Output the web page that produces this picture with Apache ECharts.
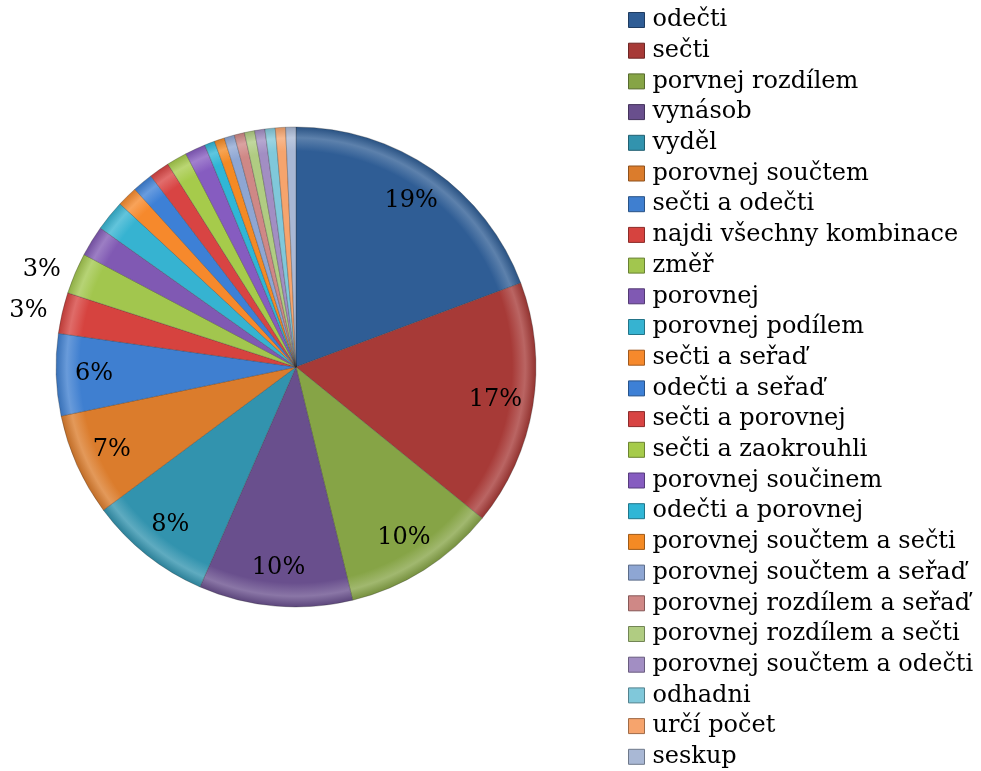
<!DOCTYPE html>
<html>
<head>
<meta charset="utf-8">
<script src="https://cdn.jsdelivr.net/npm/echarts@6/dist/echarts.min.js"></script>
<style>
html,body{margin:0;padding:0;background:#fff;}
#chart{width:981px;height:771px;}
</style>
</head>
<body>
<div id="chart"></div>
<script>
const categories = [
  'odečti','sečti','porvnej rozdílem','vynásob','vyděl','porovnej součtem',
  'sečti a odečti','najdi všechny kombinace','změř','porovnej','porovnej podílem',
  'sečti a seřaď','odečti a seřaď','sečti a porovnej','sečti a zaokrouhli',
  'porovnej součinem','odečti a porovnej','porovnej součtem a sečti',
  'porovnej součtem a seřaď','porovnej rozdílem a seřaď','porovnej rozdílem a sečti',
  'porovnej součtem a odečti','odhadni','určí počet','seskup'
];
const values = [28,24,15,15,12,10,8,4,4,3,3,2,2,2,2,2,1,1,1,1,1,1,1,1,1];
const colors = [
  '#2F5D95','#A73A37','#86A446','#694F8D','#3293AE','#DB7C2C',
  '#3F7FD0','#D6433F','#A2C64E','#8059B3','#36B3D1','#F6892C',
  '#3D80D6','#D84443','#A6CB4B','#865CC0','#30B6D6','#F48A24',
  '#8EA6D3','#CF8886','#B0CC82','#A28EC3','#80C8DA','#F6A46D','#A9B8D5'
];
const outsideLabels = ['najdi všechny kombinace','změř'];

const total = values.reduce((a,b)=>a+b,0);
const FONT = 'DejaVu Serif';
const center = [296, 367];
const R = 240;

function mix(hex, t, target){
  const n = parseInt(hex.slice(1),16);
  const r=(n>>16)&255, g=(n>>8)&255, b=n&255;
  const f = v => Math.round(v + (target - v)*t);
  return 'rgb('+f(r)+','+f(g)+','+f(b)+')';
}
function sliceFill(c){
  return {
    type:'radial', x:center[0], y:center[1], r:R, global:true,
    colorStops:[
      {offset:0, color:c},
      {offset:0.90, color:c},
      {offset:0.955, color:mix(c,0.22,255)},
      {offset:1, color:mix(c,0.12,0)}
    ]
  };
}

const mainData = categories.map((n,i)=>({
  name:n, value:values[i],
  itemStyle:{color:sliceFill(colors[i])}
}));
const labelData = categories.map((n,i)=>{
  const pct = values[i]/total*100;
  const show = pct >= 2.5;
  const outside = outsideLabels.includes(n);
  return {
    name:n, value:values[i],
    itemStyle:{color:'rgba(0,0,0,0)'},
    label:{show:show, position: outside ? 'outside' : 'inside'},
    labelLine:{show:false, length: 10, length2: 0}
  };
});

const chart = echarts.init(document.getElementById('chart'));
chart.setOption({
  animation:false,
  legend:{
    orient:'vertical',
    left:628, top:8,
    height:763,
    padding:0,
    icon:'rect',
    itemWidth:16, itemHeight:15,
    itemGap:6.7,
    selectedMode:false,
    data:categories.map((n,i)=>({name:n, itemStyle:{color:colors[i], borderColor:mix(colors[i],0.35,0), borderWidth:1}})),
    textStyle:{fontFamily:FONT, fontSize:24, color:'#000', lineHeight:24, padding:[0,0,0,3]}
  },
  series:[
    {
      type:'pie',
      center:center,
      radius:[0,R],
      startAngle:90,
      clockwise:true,
      silent:true,
      label:{show:false},
      labelLine:{show:false},
      itemStyle:{borderColor:'rgba(40,40,40,0.35)', borderWidth:0.8},
      data:mainData
    },
    {
      type:'pie',
      center:center,
      radius:[158,R],
      startAngle:90,
      clockwise:true,
      silent:true,
      legendHoverLink:false,
      avoidLabelOverlap:false,
      label:{
        fontFamily:FONT, fontSize:24, color:'#000',
        formatter:p=>Math.round(p.value/total*100)+'%'
      },
      data:labelData
    }
  ]
});
</script>
</body>
</html>
